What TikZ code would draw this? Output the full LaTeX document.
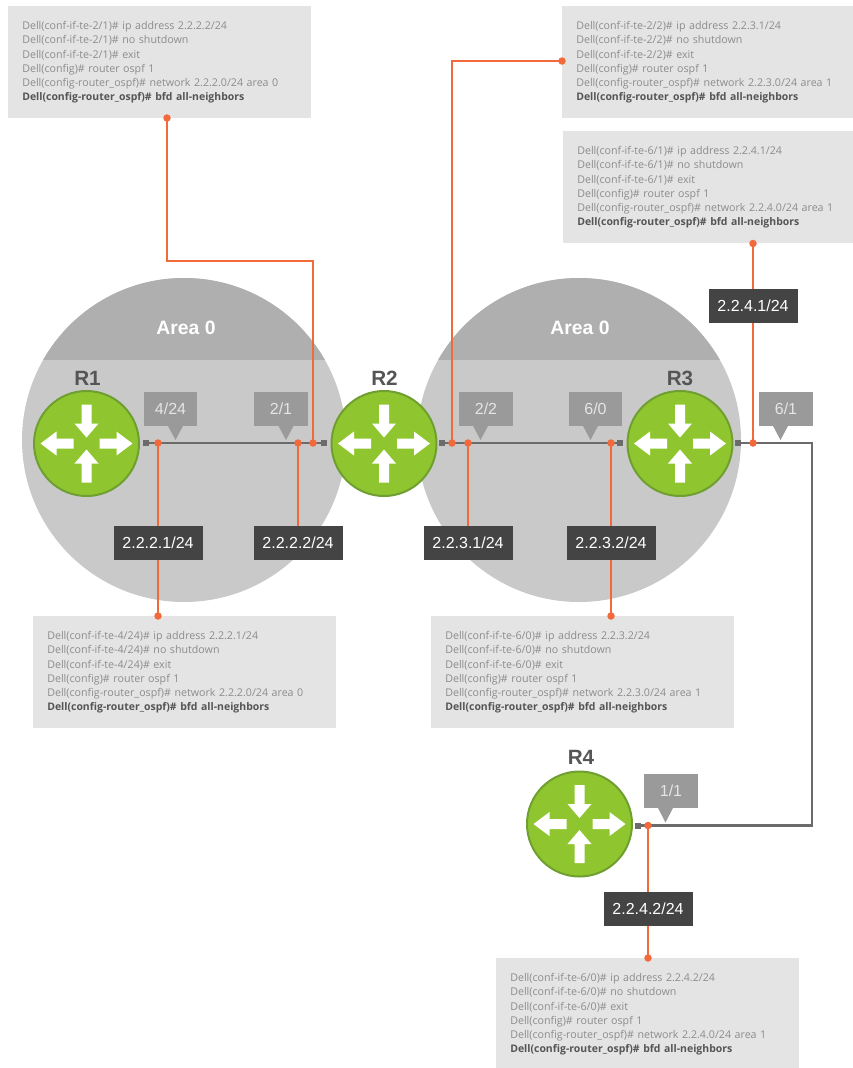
\documentclass[tikz,border=0pt]{standalone}
\usepackage{fontspec}
\setmainfont{Liberation Sans}
\newfontfamily\cfgfont{Open Sans}
\usetikzlibrary{backgrounds}
\definecolor{areabody}{HTML}{C9C9C9}
\definecolor{areahead}{HTML}{AFAFAF}
\definecolor{routergreen}{HTML}{8FC62F}
\definecolor{routeredge}{HTML}{6F9F30}
\definecolor{wireorange}{HTML}{F2693C}
\definecolor{wiregray}{HTML}{6B6B6B}
\definecolor{tagdark}{HTML}{444444}
\definecolor{taggray}{HTML}{9A9A9A}
\definecolor{cfgfill}{HTML}{E4E4E4}
\definecolor{cfgtext}{HTML}{8C8C8C}
\definecolor{cfgbold}{HTML}{555555}
\newcommand{\px}{0.75pt}
\tikzset{
  area/.style={circle,fill=areabody,minimum size=324*\px,inner sep=0},
  areaname/.style={text=white,font=\fontsize{14.5}{18}\selectfont\bfseries},
  router/.style={circle,fill=routergreen,draw=routeredge,line width=2*\px,minimum size=105*\px,inner sep=0},
  routername/.style={text=cfgbold,font=\fontsize{15.5}{19}\selectfont\bfseries},
  port/.style={fill=wiregray,minimum size=6*\px,inner sep=0},
  tap/.style={circle,fill=wireorange,minimum size=7.5*\px,inner sep=0},
  wire/.style={wiregray,line width=2.2*\px},
  tapline/.style={wireorange,line width=1.8*\px},
  addr/.style={fill=tagdark,text=white,font=\fontsize{12}{14}\selectfont,minimum width=89*\px,minimum height=34*\px,inner sep=0},
  iface/.style={fill=taggray,text=white!90!black,font=\fontsize{12}{14}\selectfont,minimum width=53.5*\px,minimum height=34*\px,inner sep=0},
  tagtip/.style={fill=taggray},
  cfg/.style={fill=cfgfill,text=cfgtext,anchor=north west,align=left,text width=275*\px,inner xsep=14*\px,inner ysep=0,minimum height=112*\px,font=\cfgfont\fontsize{8}{10.6}\selectfont},
}
\newcommand{\routerarrows}[1]{
\begin{scope}[shift={(#1)}]
\fill[white] (13,-5) -- (30,-5) -- (30,-12) -- (46,0) -- (30,12) -- (30,5) -- (13,5) -- cycle;
\fill[white] (-13,-5) -- (-30,-5) -- (-30,-12) -- (-46,0) -- (-30,12) -- (-30,5) -- (-13,5) -- cycle;
\fill[white] (-5,-39) -- (5,-39) -- (5,-20) -- (12,-20) -- (0,-6) -- (-12,-20) -- (-5,-20) -- cycle;
\fill[white] (-5,39) -- (5,39) -- (5,20) -- (12,20) -- (0,6) -- (-12,20) -- (-5,20) -- cycle;
\end{scope}
}
\newcommand{\cfglines}[4]{#1\# ip address #2\\#1\# no shutdown\\#1\# exit\\Dell(config)\# router ospf 1\\Dell(config-router\_ospf)\# network #3/24 area #4\\\textcolor{cfgbold}{\bfseries\fontsize{7.85}{10.6}\selectfont Dell(config-router\_ospf)\# bfd all-neighbors}\\[2pt]}

\begin{document}
\begin{tikzpicture}[x=\px,y=-\px]
\useasboundingbox (0,0) rectangle (853,1068);
%config boxes
\node[cfg] (cfgA) at (8,6) {\cfglines{Dell(conf-if-te-2/1)}{2.2.2.2/24}{2.2.2.0}{0}};
\node[cfg] (cfgB) at (562,6) {\cfglines{Dell(conf-if-te-2/2)}{2.2.3.1/24}{2.2.3.0}{1}};
\node[cfg] (cfgC) at (563,131) {\cfglines{Dell(conf-if-te-6/1)}{2.2.4.1/24}{2.2.4.0}{1}};
\node[cfg] (cfgD) at (33,616) {\cfglines{Dell(conf-if-te-4/24)}{2.2.2.1/24}{2.2.2.0}{0}};
\node[cfg] (cfgE) at (431,616) {\cfglines{Dell(conf-if-te-6/0)}{2.2.3.2/24}{2.2.3.0}{1}};
\node[cfg] (cfgF) at (496,958) {\cfglines{Dell(conf-if-te-6/0)}{2.2.4.2/24}{2.2.4.0}{1}};
%routers
\node[router] (r1) at (86.5,443.5) {};
\node[router] (r2) at (384,443.5) {};
\node[router] (r3) at (680,443.5) {};
\node[router] (r4) at (579.5,824) {};
\routerarrows{r1}
\routerarrows{r2}
\routerarrows{r3}
\routerarrows{r4}
\node[routername] (r1name) at (87.5,378) {R1};
\node[routername] (r2name) at (384.5,378) {R2};
\node[routername] (r3name) at (680,378) {R3};
\node[routername] (r4name) at (581,757) {R4};
%ports
\node[port] (p1) at (146,443) {};
\node[port] (p2) at (324,443) {};
\node[port] (p3) at (442,443) {};
\node[port] (p4) at (620,443) {};
\node[port] (p5) at (738,443) {};
\node[port] (p6) at (638,825.5) {};
%taps
\node[tap] (t1) at (158,443) {};
\node[tap] (t2) at (298,443) {};
\node[tap] (t3) at (313,443) {};
\node[tap] (t4) at (452,443) {};
\node[tap] (t5) at (468,443) {};
\node[tap] (t6) at (611,443) {};
\node[tap] (t7) at (753,443) {};
\node[tap] (t8) at (648,825.5) {};
\node[tap] (e1) at (167,118) {};
\node[tap] (e2) at (562,61) {};
\node[tap] (e3) at (753,243.5) {};
\node[tap] (e4) at (158,616) {};
\node[tap] (e5) at (611,616) {};
\node[tap] (e6) at (648,958) {};
%address tags
\node[addr] (a1) at (158,543) {2.2.2.1/24};
\node[addr] (a2) at (298,543) {2.2.2.2/24};
\node[addr] (a3) at (468,543) {2.2.3.1/24};
\node[addr] (a4) at (611,543) {2.2.3.2/24};
\node[addr] (a5) at (753,306) {2.2.4.1/24};
\node[addr] (a6) at (648,908.5) {2.2.4.2/24};
%interface tags
\node[iface] (i1) at (170.5,409) {4/24};
\node[iface] (i2) at (281,409) {2/1};
\node[iface] (i3) at (486,409) {2/2};
\node[iface] (i4) at (595.5,409) {6/0};
\node[iface] (i5) at (786,409) {6/1};
\node[iface] (i6) at (671,791) {1/1};
\fill[tagtip] (167.5,425) -- (183.5,425) -- (175.5,440) -- cycle;
\fill[tagtip] (278,425) -- (294,425) -- (286,440) -- cycle;
\fill[tagtip] (472.5,425) -- (488.5,425) -- (480.5,440) -- cycle;
\fill[tagtip] (582.5,425) -- (598.5,425) -- (590.5,440) -- cycle;
\fill[tagtip] (772.5,425) -- (788.5,425) -- (780.5,440) -- cycle;
\fill[tagtip] (657.5,807) -- (673.5,807) -- (665.5,822.5) -- cycle;
\coordinate (bendA) at (313,261);
\coordinate (bendB) at (812,825.5);
\begin{scope}[on background layer]
%areas
\node[area] (area1) at (184,440) {};
\node[area] (area2) at (579,440) {};
\begin{scope}
\clip (184,440) circle (162);
\fill[areahead] (0,270) rectangle (400,360);
\end{scope}
\begin{scope}
\clip (579,440) circle (162);
\fill[areahead] (400,270) rectangle (800,360);
\end{scope}
%wires
\draw[wire] (p1.center) -- (p2.center);
\draw[wire] (p3.center) -- (p4.center);
\draw[wire] (p5.center) -| (bendB) -- (p6.center);
\draw[tapline] (e1.center) |- (bendA) -- (t3.center);
\draw[tapline] (e2.center) -| (t4.center);
\draw[tapline] (e3.center) -- (t7.center);
\draw[tapline] (e4.center) -- (t1.center);
\draw[tapline] (a2.center) -- (t2.center);
\draw[tapline] (a3.center) -- (t5.center);
\draw[tapline] (e5.center) -- (t6.center);
\draw[tapline] (e6.center) -- (t8.center);
\end{scope}
\node[areaname] (n1) at (186,328) {Area 0};
\node[areaname] (n2) at (580,328) {Area 0};
\end{tikzpicture}
\end{document}
